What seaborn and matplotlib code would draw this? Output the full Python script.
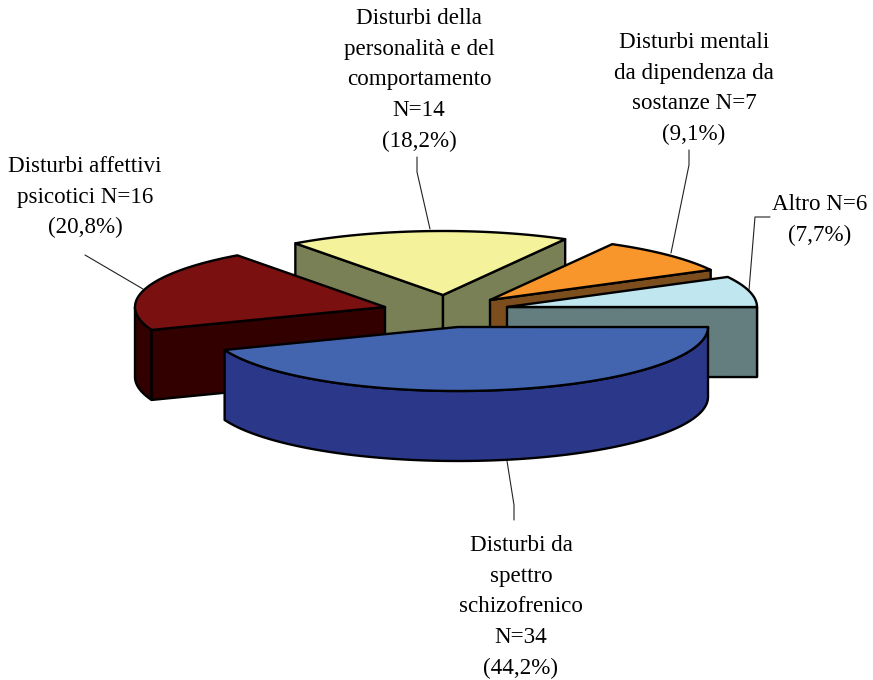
import numpy as np
import seaborn as sns
import matplotlib
matplotlib.use("Agg")
import matplotlib.pyplot as plt
from matplotlib.patches import Polygon

# data, in the order the slices go round the pie
categories = ["Disturbi della\npersonalità e del\ncomportamento", "Disturbi mentali\nda dipendenza da\nsostanze",
              "Altro", "Disturbi da\nspettro\nschizofrenico", "Disturbi affettivi\npsicotici"]
counts = [14, 7, 6, 34, 16]
percents = ["18,2%", "9,1%", "7,7%", "44,2%", "20,8%"]

# look of the slices: top colour, side colour
top_colors = ["#F4F29B", "#F8962B", "#C0E6EF", "#4364AE", "#7A1010"]
side_colors = ["#7A8055", "#7D4E1D", "#647E80", "#2B388A", "#330000"]

# apex of each exploded slice, in pixels
apex_x = [443, 490, 507, 458, 385]
apex_y = [295, 300, 307, 327, 307]
RX, RY, DEPTH = 250, 64, 70
START_ANGLE = 126.2

# label layout: text centre, first line y, leader line
label_x = [419, 694, 820, 521, 85]
label_y = [8, 32, 194, 535, 156]
leaders = [
    [(417, 157), (417, 172), (430, 229)],
    [(689, 150), (689, 165), (671, 253)],
    [(770, 217), (755, 217), (749, 290)],
    [(514, 520), (514, 505), (507, 461)],
    [(85, 255), (143, 289)],
]

sns.set_theme(style="white")
plt.rcParams["font.family"] = ["Liberation Serif", "DejaVu Serif"]

fig, ax = plt.subplots(figsize=(8.73, 6.8), dpi=100)
fig.subplots_adjust(0, 0, 1, 1)
ax.set_xlim(0, 873)
ax.set_ylim(680, 0)
ax.axis("off")


def rim(cx, cy, angles):
    """ Points of the slice's rim for parameter angles in degrees. """
    rad = np.radians(angles)
    return np.column_stack([cx + RX * np.cos(rad), cy - RY * np.sin(rad)])


def add_face(points, color, z):
    ax.add_patch(Polygon(points, closed=True, facecolor=color, edgecolor="black",
                         linewidth=1.7, joinstyle="round", zorder=z))


def draw_slice(i, a_start, a_end, z):
    """ Draws one slice going clockwise from a_start to a_end. """
    cx, cy = apex_x[i], apex_y[i]
    angles = np.linspace(a_start, a_end, 120)
    edge = rim(cx, cy, angles)
    down = np.array([0, DEPTH])

    # outer wall, only where the rim faces the viewer
    front = np.sin(np.radians(angles)) <= 0
    if front.any():
        arc = edge[front]
        add_face(np.vstack([arc, (arc + down)[::-1]]), side_colors[i], z)

    # the two cut faces
    apex = np.array([cx, cy])
    if np.cos(np.radians(a_start)) < 0:
        add_face([apex, edge[0], edge[0] + down, apex + down], side_colors[i], z)
    if np.cos(np.radians(a_end)) > 0:
        add_face([apex, edge[-1], edge[-1] + down, apex + down], side_colors[i], z)

    # top
    add_face(np.vstack([apex, edge]), top_colors[i], z + 0.5)


# slice angles come from the counts
sweeps = 360 * np.array(counts) / sum(counts)
ends = START_ANGLE - np.cumsum(sweeps)
starts = ends + sweeps

# back to front
for z, i in enumerate([0, 1, 2, 4, 3]):
    draw_slice(i, starts[i], ends[i], z + 2)

for i in range(len(categories)):
    name = categories[i]
    # the N count sits on the last line of the name unless the block is narrow
    if i in (0, 3):
        text = f"{name}\nN={counts[i]}\n({percents[i]})"
    else:
        text = f"{name} N={counts[i]}\n({percents[i]})"
    ax.text(label_x[i], label_y[i], text, ha="center", va="top", multialignment="center",
            fontsize=16.6, linespacing=1.6, color="black", zorder=10)
    xs, ys = zip(*leaders[i])
    ax.plot(xs, ys, color="#222222", linewidth=0.8, zorder=1)

fig.savefig("out.png", dpi=100, facecolor="white")
